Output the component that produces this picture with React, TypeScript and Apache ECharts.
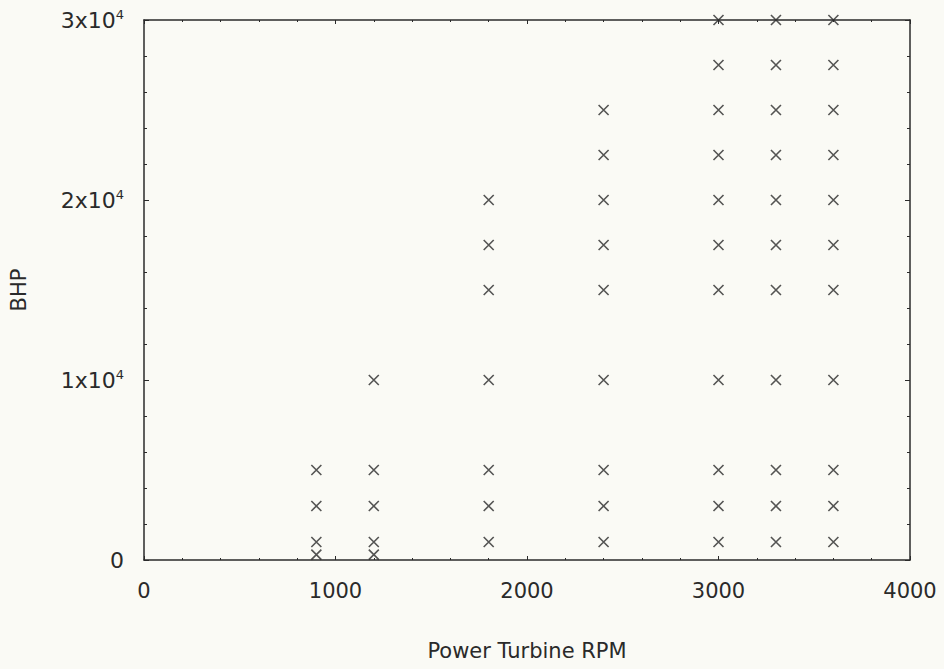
import React, { useEffect, useRef } from "react";
import * as echarts from "echarts";

const rpmColumns = [900, 1200, 1800, 2400, 3000, 3300, 3600];
const bhp900 = [300, 1000, 3000, 5000];
const bhp1200 = [300, 1000, 3000, 5000, 10000];
const bhp1800 = [1000, 3000, 5000, 10000, 15000, 17500, 20000];
const bhp2400 = [1000, 3000, 5000, 10000, 15000, 17500, 20000, 22500, 25000];
const bhp3000 = [1000, 3000, 5000, 10000, 15000, 17500, 20000, 22500, 25000, 27500, 30000];
const bhp3300 = [1000, 3000, 5000, 10000, 15000, 17500, 20000, 22500, 25000, 27500, 30000];
const bhp3600 = [1000, 3000, 5000, 10000, 15000, 17500, 20000, 22500, 25000, 27500, 30000];
const bhpColumns = [bhp900, bhp1200, bhp1800, bhp2400, bhp3000, bhp3300, bhp3600];

const xTicks = [0, 1000, 2000, 3000, 4000];
const xTickLabels = ["0", "1000", "2000", "3000", "4000"];
const yTicks = [0, 10000, 20000, 30000];
const yTickLabels = ["0", "1x10^4", "2x10^4", "3x10^4"];

const FONT = "DejaVu Sans";
const INK = "#2a2a2a";

export default function App() {
  const ref = useRef<HTMLDivElement>(null);
  useEffect(() => {
    if (!ref.current) return;
    const chart = echarts.init(ref.current, null, { renderer: "svg" });
    const data: number[][] = [];
    rpmColumns.forEach((rpm, i) => bhpColumns[i].forEach((b) => data.push([rpm, b])));
    const xLabel = (v: number) => {
      const idx = xTicks.indexOf(v);
      return idx < 0 ? "" : xTickLabels[idx];
    };
    const yLabel = (v: number) => {
      const idx = yTicks.indexOf(v);
      if (idx < 0) return "";
      const s = yTickLabels[idx];
      if (s.indexOf("^") < 0) return "{b|" + s + "}";
      const [base, exp] = s.split("^");
      return "{b|" + base + "}{s|" + exp + "}";
    };
    const rich = {
      b: { fontFamily: FONT, fontSize: 22, color: INK },
      s: { fontFamily: FONT, fontSize: 13, color: INK, verticalAlign: "top", padding: [0, 0, 11, 0] },
    };
    const axisLineStyle = { color: INK, width: 1.5 };
    chart.setOption({
      animation: false,
      backgroundColor: "#fafaf5",
      grid: { left: 143, right: 34, top: 20, bottom: 109 },
      xAxis: [
        {
          type: "value",
          min: xTicks[0],
          max: xTicks[xTicks.length - 1],
          interval: 1000,
          name: "Power Turbine RPM",
          nameLocation: "middle",
          nameGap: 80,
          nameTextStyle: { fontFamily: FONT, fontSize: 21, color: INK },
          axisLine: { show: true, onZero: false, lineStyle: axisLineStyle },
          axisTick: { show: true, inside: true, length: 4, lineStyle: { color: INK } },
          minorTick: { show: true, splitNumber: 5, length: 2, lineStyle: { color: INK } },
          axisLabel: { fontFamily: FONT, fontSize: 21, color: INK, margin: 20, formatter: xLabel },
          splitLine: { show: false },
        },
        {
          type: "value",
          position: "top",
          min: 0,
          max: 4000,
          interval: 1000,
          axisLine: { show: true, onZero: false, lineStyle: axisLineStyle },
          axisTick: { show: true, inside: true, length: 4, lineStyle: { color: INK } },
          minorTick: { show: true, splitNumber: 5, length: 2, lineStyle: { color: INK } },
          axisLabel: { show: false },
          splitLine: { show: false },
        },
      ],
      yAxis: [
        {
          type: "value",
          min: 0,
          max: 30000,
          interval: 10000,
          name: "BHP",
          nameLocation: "middle",
          nameGap: 115,
          nameTextStyle: { fontFamily: FONT, fontSize: 21, color: INK },
          axisLine: { show: true, onZero: false, lineStyle: axisLineStyle },
          axisTick: { show: true, inside: true, length: 5, lineStyle: { color: INK } },
          minorTick: { show: true, splitNumber: 5, length: 3, lineStyle: { color: INK } },
          axisLabel: { formatter: yLabel, rich, margin: 20 },
          splitLine: { show: false },
        },
        {
          type: "value",
          position: "right",
          min: 0,
          max: 30000,
          interval: 10000,
          axisLine: { show: true, onZero: false, lineStyle: axisLineStyle },
          axisTick: { show: true, inside: true, length: 5, lineStyle: { color: INK } },
          minorTick: { show: true, splitNumber: 5, length: 3, lineStyle: { color: INK } },
          axisLabel: { show: false },
          splitLine: { show: false },
        },
      ],
      series: [
        {
          type: "scatter",
          xAxisIndex: 0,
          yAxisIndex: 0,
          data,
          symbol: "path://M0,0L10,10M10,0L0,10",
          symbolSize: 10,
          itemStyle: { color: "none", borderColor: "#2a2a2a", borderWidth: 1.6 },
          clip: false,
        },
      ],
    });
    return () => chart.dispose();
  }, []);
  return <div ref={ref} style={{ width: 944, height: 669, position: "absolute", left: 0, top: 0 }} />;
}
